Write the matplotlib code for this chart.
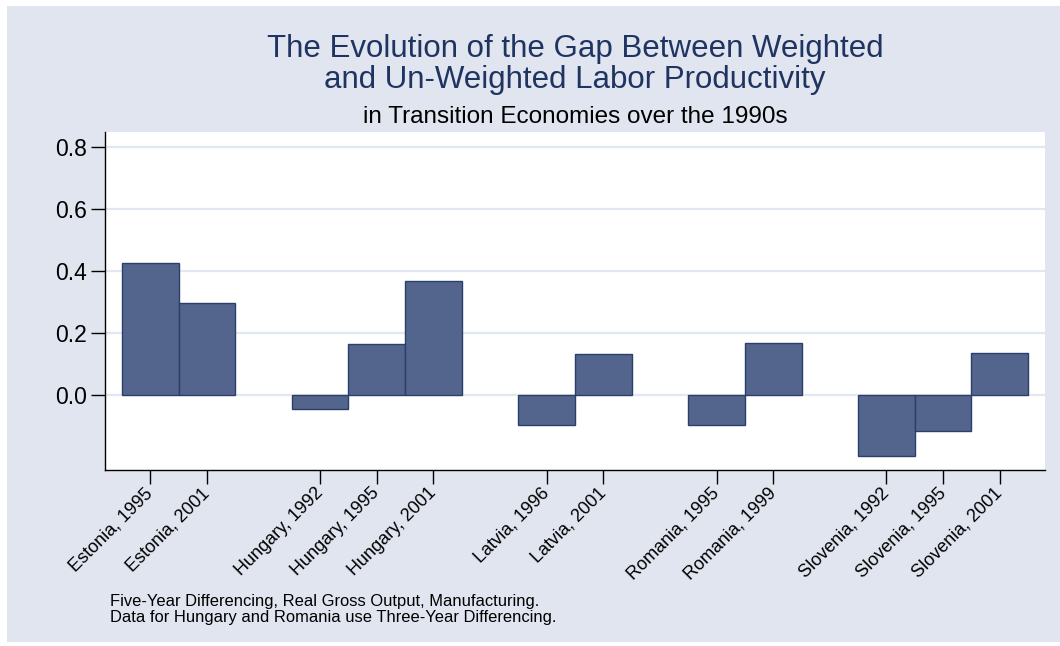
import matplotlib
matplotlib.use("Agg")
import matplotlib.pyplot as plt
from matplotlib.patches import Rectangle

plt.rcParams['font.family'] = ['Liberation Sans', 'DejaVu Sans']

# data: gap between weighted and un-weighted productivity
countries = ['Estonia', 'Hungary', 'Latvia', 'Romania', 'Slovenia']
years = [[1995, 2001], [1992, 1995, 2001], [1996, 2001], [1995, 1999], [1992, 1995, 2001]]
gaps = [[0.426, 0.297], [-0.045, 0.163, 0.367], [-0.099, 0.131], [-0.099, 0.167], [-0.199, -0.117, 0.134]]

title_lines = ['The Evolution of the Gap Between Weighted',
               'and Un-Weighted Labor Productivity']
subtitle = 'in Transition Economies over the 1990s'
note_lines = ['Five-Year Differencing, Real Gross Output, Manufacturing.',
              'Data for Hungary and Romania use Three-Year Differencing.']

bg = '#e1e5f0'
bar_fill = '#53658c'
bar_edge = '#2b3f6c'
title_col = '#1f3461'

W, H = 1060, 646
fig = plt.figure(figsize=(W / 100, H / 100), dpi=100)
fig.patch.set_facecolor('white')
# light outer panel, with a thin white strip at top and bottom
fig.patches.append(Rectangle((7 / W, 4 / H), 1, (642 - 6) / H,
                             transform=fig.transFigure, facecolor=bg, edgecolor='none', zorder=-10))

ax = fig.add_axes([105 / W, 1 - 470 / H, (1045 - 105) / W, (470 - 132) / H])

# lay the bars out group by group, one empty slot between countries
positions, values, labels = [], [], []
slot = 0
for country, yrs, vals in zip(countries, years, gaps):
    for yr, v in zip(yrs, vals):
        positions.append(slot)
        values.append(v)
        labels.append(f'{country}, {yr}')
        slot += 1
    slot += 1

ax.bar(positions, values, width=1.0, color=bar_fill, edgecolor=bar_edge, linewidth=1.0, zorder=3)

ax.set_xlim(-0.8, positions[-1] + 0.8)
ax.set_ylim(-0.243, 0.847)
ax.set_yticks([0.0, 0.2, 0.4, 0.6, 0.8])
ax.set_yticklabels(['0.0', '0.2', '0.4', '0.6', '0.8'], fontsize=16.5)
ax.set_xticks(positions)
ax.set_xticklabels(labels, rotation=45, ha='right', va='center',
                   rotation_mode='anchor', fontsize=13)
ax.tick_params(axis='both', length=10, width=1.0, color='black')
ax.tick_params(axis='y', pad=3)
ax.tick_params(axis='x', pad=5)

ax.grid(axis='y', color='#e3e7f1', linewidth=1.6, zorder=0)
ax.set_axisbelow(True)
for s in ['top', 'right']:
    ax.spines[s].set_visible(False)
for s in ['left', 'bottom']:
    ax.spines[s].set_linewidth(1.0)

cx = (105 + 1045) / 2 / W
fig.text(cx, 1 - 57 / H, title_lines[0], ha='center', va='baseline', fontsize=22.5, color=title_col)
fig.text(cx, 1 - 88 / H, title_lines[1], ha='center', va='baseline', fontsize=22.5, color=title_col)
fig.text(cx, 1 - 123 / H, subtitle, ha='center', va='baseline', fontsize=17.5, color='black')
fig.text(110 / W, 1 - 606 / H, note_lines[0], ha='left', va='baseline', fontsize=11.9, color='black')
fig.text(110 / W, 1 - 622 / H, note_lines[1], ha='left', va='baseline', fontsize=11.9, color='black')

fig.savefig('out.png', dpi=100)
